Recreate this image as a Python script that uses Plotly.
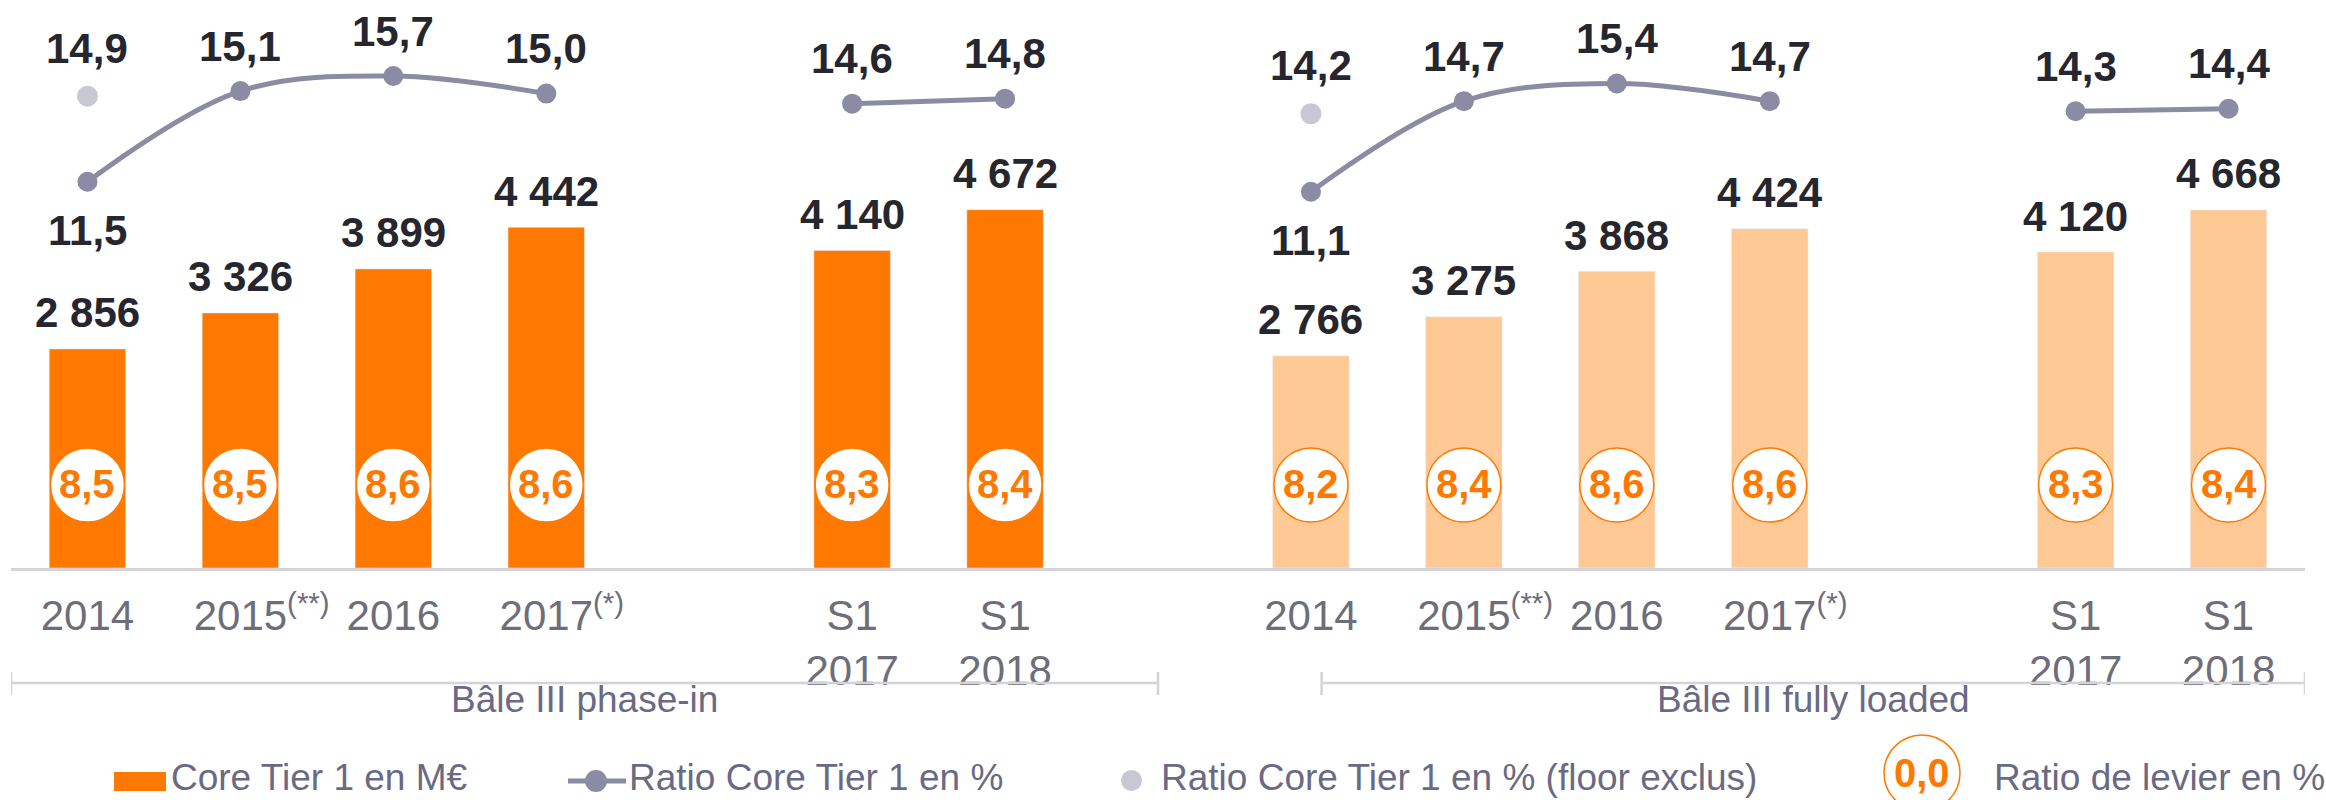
import plotly.graph_objects as go

# ---------------- data ----------------
periods = ["2014", "2015", "2016", "2017", "S1 2017", "S1 2018"]
tick_labels = [
    "2014",
    "<sup><span style='color:rgba(0,0,0,0)'>(**)</span></sup>2015<sup>(**)</sup>",
    "2016",
    "<sup><span style='color:rgba(0,0,0,0)'>(*)</span></sup>2017<sup>(*)</sup>",
    "S1<br>2017",
    "S1<br>2018",
]
groups = ["Bâle III phase-in", "Bâle III fully loaded"]

cet1_phase_in = [2856, 3326, 3899, 4442, 4140, 4672]
cet1_fully_loaded = [2766, 3275, 3868, 4424, 4120, 4668]

ratio_phase_in = [11.5, 15.1, 15.7, 15.0, 14.6, 14.8]
ratio_fully_loaded = [11.1, 14.7, 15.4, 14.7, 14.3, 14.4]

floor_excl_phase_in = [14.9, None, None, None, None, None]
floor_excl_fully_loaded = [14.2, None, None, None, None, None]

leverage_phase_in = [8.5, 8.5, 8.6, 8.6, 8.3, 8.4]
leverage_fully_loaded = [8.2, 8.4, 8.6, 8.6, 8.3, 8.4]

# ---------------- style ----------------
FONT = "Arial, 'Liberation Sans', sans-serif"
ORANGE = "#ff7900"
ORANGE_LIGHT = "#ffc996"
LINE_C = "#8b8ba3"
FLOOR_C = "#c8c8d5"
DARK = "#26262f"
GREY_TXT = "#6e6e7a"
LEG_TXT = "#6a6a84"
AXIS_C = "#d3d3d9"

W, H = 2326, 800
ML, MR, MT, MB = 11, 21, 0, 232
PLOT_W = W - ML - MR
PLOT_H = H - MT - MB

# slot layout: four annual bars, one empty slot, two half-year bars; empty slot between groups
def slots_for(group_index):
    base = group_index * 8
    return [base + 0, base + 1, base + 2, base + 3, base + 5, base + 6]

x_left = slots_for(0)
x_right = slots_for(1)
x_all = x_left + x_right

def fmt_int(v):
    return f"{v:,}".replace(",", " ")

def fmt_dec(v):
    return f"{v:.1f}".replace(".", ",")

def gaps(xs, ys):
    """insert None where slots are not contiguous so the line breaks"""
    ox, oy = [], []
    for i, (x, y) in enumerate(zip(xs, ys)):
        if i > 0 and x - xs[i - 1] > 1:
            ox.append(None)
            oy.append(None)
        ox.append(x)
        oy.append(y)
    return ox, oy

fig = go.Figure()

# bars
fig.add_trace(go.Bar(x=x_left, y=cet1_phase_in, marker_color=ORANGE, width=0.5,
                     name="Core Tier 1 en M€", showlegend=False))
fig.add_trace(go.Bar(x=x_right, y=cet1_fully_loaded, marker_color=ORANGE_LIGHT, width=0.5,
                     name="Core Tier 1 en M€ (fully loaded)", showlegend=False))

# ratio line
lx, ly = gaps(x_all, ratio_phase_in + ratio_fully_loaded)
fig.add_trace(go.Scatter(x=lx, y=ly, yaxis="y2", mode="lines+markers",
                         line=dict(color=LINE_C, width=5, shape="spline", smoothing=1.0),
                         marker=dict(color=LINE_C, size=20),
                         connectgaps=False, cliponaxis=False,
                         name="Ratio Core Tier 1 en %", showlegend=False))

# floor excluded points
fx = [x for x, v in zip(x_all, floor_excl_phase_in + floor_excl_fully_loaded) if v is not None]
fy = [v for v in floor_excl_phase_in + floor_excl_fully_loaded if v is not None]
fig.add_trace(go.Scatter(x=fx, y=fy, yaxis="y2", mode="markers",
                         marker=dict(color=FLOOR_C, size=21), cliponaxis=False,
                         name="Ratio Core Tier 1 en % (floor exclus)", showlegend=False))

# leverage ratio badges (row inside the bars)
LEVER_ROW = (PLOT_H - 485) / PLOT_H
lev = leverage_phase_in + leverage_fully_loaded
fig.add_trace(go.Scatter(x=x_all, y=[LEVER_ROW] * len(x_all), yaxis="y3",
                         mode="markers",
                         marker=dict(color="white", size=74, line=dict(color=ORANGE, width=1.5)),
                         cliponaxis=False, name="Ratio de levier en %", showlegend=False))

BOLD = dict(family=FONT, size=42, color=DARK, weight="bold")
annotations = []
for x, v in zip(x_all, lev):
    annotations.append(dict(x=x, y=LEVER_ROW, xref="x", yref="y3", text=fmt_dec(v),
                            showarrow=False, yanchor="middle", yshift=1,
                            font=dict(family=FONT, size=40, color=ORANGE, weight="bold")))
# bar value labels
for x, v in zip(x_all, cet1_phase_in + cet1_fully_loaded):
    annotations.append(dict(x=x, y=v, xref="x", yref="y", text=fmt_int(v), showarrow=False,
                            yanchor="middle", yshift=36, font=BOLD))
# ratio labels (first point of each group below, others above)
for i, (x, v) in enumerate(zip(x_all, ratio_phase_in + ratio_fully_loaded)):
    below = (i % 6 == 0)
    annotations.append(dict(x=x, y=v, xref="x", yref="y2", text=fmt_dec(v), showarrow=False,
                            yanchor="middle", yshift=-49 if below else 45, font=BOLD))
for x, v in zip(fx, fy):
    annotations.append(dict(x=x, y=v, xref="x", yref="y2", text=fmt_dec(v), showarrow=False,
                            yanchor="middle", yshift=48, font=BOLD))

def px_x(p):
    return (p - ML) / PLOT_W

def px_y(p):
    return (MT + PLOT_H - p) / PLOT_H

shapes = []
# group brackets
brackets = [(-0.5, 7.0), (8.07, 14.5)]
for (a, b), g in zip(brackets, groups):
    shapes.append(dict(type="line", xref="x", yref="paper", x0=a, x1=b,
                       y0=px_y(683), y1=px_y(683), line=dict(color=AXIS_C, width=2.5)))
    for e in (a, b):
        shapes.append(dict(type="line", xref="x", yref="paper", x0=e, x1=e,
                           y0=px_y(672), y1=px_y(695), line=dict(color=AXIS_C, width=2.5)))
    annotations.append(dict(x=(a + b) / 2, y=px_y(699), xref="x", yref="paper", text=g,
                            showarrow=False, yanchor="middle",
                            font=dict(family=FONT, size=37, color=LEG_TXT)))

# manual legend
LY = 781
shapes.append(dict(type="rect", xref="paper", yref="paper", x0=px_x(114), x1=px_x(166),
                   y0=px_y(791), y1=px_y(772), fillcolor=ORANGE, line=dict(width=0)))
shapes.append(dict(type="line", xref="paper", yref="paper", x0=px_x(568), x1=px_x(626),
                   y0=px_y(LY), y1=px_y(LY), line=dict(color=LINE_C, width=5)))
shapes.append(dict(type="circle", xref="paper", yref="paper", x0=px_x(585), x1=px_x(607),
                   y0=px_y(792), y1=px_y(770), fillcolor=LINE_C, line=dict(width=0)))
shapes.append(dict(type="circle", xref="paper", yref="paper", x0=px_x(1121), x1=px_x(1142),
                   y0=px_y(791), y1=px_y(770), fillcolor=FLOOR_C, line=dict(width=0)))
shapes.append(dict(type="circle", xref="paper", yref="paper", x0=px_x(1884), x1=px_x(1960),
                   y0=px_y(811), y1=px_y(735), fillcolor="white", line=dict(color=ORANGE, width=1.5)))
for x0, t in [(170, "Core Tier 1 en M€"), (628, "Ratio Core Tier 1 en %"),
              (1160, "Ratio Core Tier 1 en % (floor exclus)"), (1993, "Ratio de levier en %")]:
    annotations.append(dict(x=px_x(x0), y=px_y(799), xref="paper", yref="paper", text=t,
                            showarrow=False, xanchor="left", yanchor="bottom", borderpad=0,
                            font=dict(family=FONT, size=37, color=LEG_TXT)))
annotations.append(dict(x=px_x(1922), y=px_y(773), xref="paper", yref="paper", text="0,0",
                        showarrow=False, xanchor="center", yanchor="middle",
                        font=dict(family=FONT, size=40, color=ORANGE, weight="bold")))

fig.update_layout(
    width=W, height=H,
    margin=dict(l=ML, r=MR, t=MT, b=MB),
    paper_bgcolor="white", plot_bgcolor="white",
    font=dict(family=FONT, color=GREY_TXT),
    showlegend=False,
    xaxis=dict(range=[-0.5, 14.5], tickmode="array", tickvals=x_all,
               ticktext=tick_labels + tick_labels,
               tickfont=dict(family=FONT, size=42, color=GREY_TXT),
               ticks="outside", ticklen=9, tickcolor="rgba(0,0,0,0)",
               showline=True, linecolor=AXIS_C, linewidth=3,
               showgrid=False, zeroline=False, fixedrange=True, automargin=False),
    yaxis=dict(range=[0, PLOT_H / 0.0767], visible=False, fixedrange=True),
    yaxis2=dict(range=[15.7 - (PLOT_H - 76) / 25.17, 15.7 + 76 / 25.17], overlaying="y",
                visible=False, fixedrange=True),
    yaxis3=dict(range=[0, 1], overlaying="y", visible=False, fixedrange=True),
    annotations=annotations,
    shapes=shapes,
)

fig.write_html("out.html", config={"displayModeBar": False},
               post_script="document.body.style.margin='0';document.body.style.overflow='hidden';")
